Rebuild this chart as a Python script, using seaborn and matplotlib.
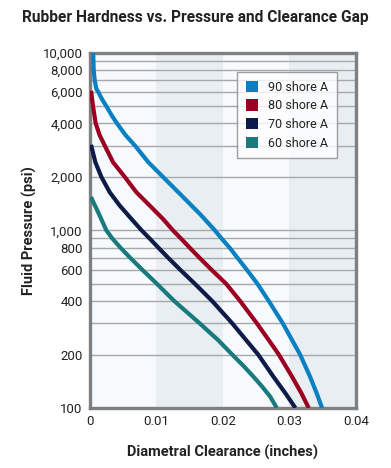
import matplotlib
matplotlib.use("Agg")
import matplotlib.pyplot as plt
import matplotlib.ticker as mticker
from matplotlib.patches import Patch
import seaborn as sns
import pandas as pd

# ---- data ----
series_names = ["90 shore A", "80 shore A", "70 shore A", "60 shore A"]
colors = ["#0a7fc1", "#9b0020", "#0e1a48", "#187a7c"]

p90 = [10000, 9670, 8000, 7000, 6270, 6000, 5510, 5000, 4440, 4000, 3430, 3000, 2420, 2000,
       1440, 1220, 1000, 900, 800, 700, 600, 500, 400, 300, 241, 200, 150, 121, 100]
c90 = [0.0005, 0.00054, 0.0006, 0.00075, 0.001, 0.0013, 0.0018, 0.0025, 0.0033, 0.0041,
       0.0054, 0.0068, 0.0088, 0.0110, 0.0148, 0.0167, 0.0188, 0.0198, 0.0210, 0.0222,
       0.0236, 0.0252, 0.0269, 0.0290, 0.0304, 0.0316, 0.0331, 0.0341, 0.0349]

p80 = [6100, 5000, 4000, 3430, 3000, 2420, 2000, 1640, 1380, 1160, 1000, 900, 800,
       700, 600, 500, 400, 300, 241, 200, 150, 121, 100]
c80 = [0.0002, 0.0005, 0.0009, 0.0015, 0.00226, 0.0035, 0.00526, 0.0070, 0.0090, 0.0110,
       0.0125, 0.0137, 0.0150, 0.0165, 0.0183, 0.0205, 0.0226, 0.0251, 0.0269,
       0.0284, 0.0304, 0.0318, 0.0329]

p70 = [3030, 2420, 2000, 1640, 1380, 1160, 1000, 900, 800, 700, 600, 500, 400,
       300, 241, 200, 150, 121, 100]
c70 = [0.0002, 0.00085, 0.00175, 0.0030, 0.0045, 0.00626, 0.0078, 0.0090, 0.0103, 0.0118,
       0.0136, 0.0158, 0.0184, 0.0214, 0.0235, 0.0253, 0.0276, 0.0294, 0.0309]

p60 = [1540, 1480, 1270, 1000, 900, 800, 700, 600, 500, 400, 300, 241, 200, 171,
       150, 132, 116, 100]
c60 = [0.0002, 0.0004, 0.00125, 0.0025, 0.0034, 0.0046, 0.0061, 0.0079, 0.0101, 0.0127,
       0.0165, 0.0193, 0.0214, 0.0232, 0.0246, 0.0259, 0.0271, 0.0281]

y_ticks = [100, 200, 400, 600, 800, 1000, 2000, 4000, 6000, 8000, 10000]
x_ticks = [0, 0.01, 0.02, 0.03, 0.04]
x_ticklabels = ["0", "0.01", "0.02", "0.03", "0.04"]

frames = []
for name, p, c in zip(series_names, [p90, p80, p70, p60], [c90, c80, c70, c60]):
    frames.append(pd.DataFrame({"clearance": c, "pressure": p, "series": name}))
df = pd.concat(frames, ignore_index=True)

# ---- style ----
sns.set_style("white")
plt.rcParams["font.family"] = ["Roboto", "DejaVu Sans"]
text_color = "#222222"

fig = plt.figure(figsize=(3.91, 4.68), dpi=100)
ax = fig.add_axes([0.2294, 0.1282, 0.9105 - 0.2294, 0.8874 - 0.1282])
ax.set_facecolor("#f6fafd")
ax.axvspan(0.01, 0.02, color="#e8eef2", zorder=0, lw=0)
ax.axvspan(0.03, 0.04, color="#e8eef2", zorder=0, lw=0)

ax.set_yscale("log")
ax.set_xlim(0, 0.04)
ax.set_ylim(100, 10000)

# gridlines at every log step
grid_vals = [v * m for m in (100, 1000) for v in range(2, 10)] + [1000]
for g in grid_vals:
    ax.axhline(g, color="#a8a8a8", lw=1.0, zorder=1)

sns.lineplot(data=df, x="clearance", y="pressure", hue="series",
             hue_order=series_names, palette=colors, estimator=None,
             sort=False, lw=3.0, ax=ax, legend=False, zorder=3)
for line in ax.get_lines():
    line.set_solid_joinstyle("round")
    line.set_solid_capstyle("butt")

ax.yaxis.set_major_locator(mticker.FixedLocator(y_ticks))
ax.yaxis.set_major_formatter(mticker.FuncFormatter(lambda v, _: f"{int(v):,}"))
ax.yaxis.set_minor_locator(mticker.FixedLocator([1500, 3000]))
ax.yaxis.set_minor_formatter(mticker.NullFormatter())
ax.set_xticks(x_ticks)
ax.set_xticklabels(x_ticklabels)
ax.tick_params(axis="both", which="major", length=0, labelsize=9.5,
               colors=text_color, pad=5)
ax.tick_params(axis="y", which="minor", length=3, width=1, color="#a8a8a8")

for s in ax.spines.values():
    s.set_color("#7f7f7f")
    s.set_linewidth(2.4)

ax.set_xlabel("Diametral Clearance (inches)", fontsize=10.5, fontweight="bold",
              color=text_color, labelpad=12)
ax.set_ylabel("Fluid Pressure (psi)", fontsize=10.5, fontweight="bold",
              color=text_color, labelpad=4)

fig.suptitle("Rubber Hardness vs. Pressure and Clearance Gap", x=0.5, y=0.978,
             fontsize=11.2, fontweight="bold", color=text_color)

handles = [Patch(facecolor=c, edgecolor="none", label=n) for n, c in zip(series_names, colors)]
leg = ax.legend(handles=handles, loc="upper right", bbox_to_anchor=(0.9287, 0.9457),
                borderaxespad=0.0,
                fontsize=9, frameon=True, fancybox=False, handlelength=1.0,
                handleheight=1.0, handletextpad=0.8, labelspacing=0.45,
                borderpad=0.7, labelcolor=text_color)
leg.get_frame().set_edgecolor("#888888")
leg.get_frame().set_linewidth(1.0)
leg.get_frame().set_facecolor("white")
leg.set_zorder(5)

fig.savefig("out.png", dpi=100)
